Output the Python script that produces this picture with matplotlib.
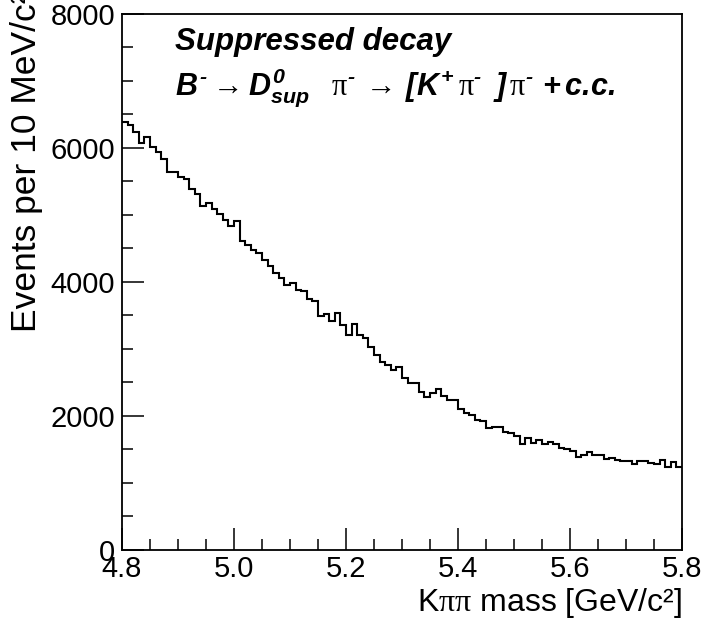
import numpy as np
import matplotlib
matplotlib.use('Agg')
import matplotlib.pyplot as plt
from matplotlib.ticker import MultipleLocator

plt.rcParams['font.family'] = ['Liberation Sans', 'DejaVu Sans']
plt.rcParams['mathtext.fontset'] = 'custom'
plt.rcParams['mathtext.it'] = 'Liberation Sans:bold:italic'
plt.rcParams['mathtext.rm'] = 'Liberation Sans:bold:italic'
plt.rcParams['mathtext.bf'] = 'Liberation Sans:bold:italic'
plt.rcParams['mathtext.sf'] = 'Liberation Serif'

# histogram: K pi pi mass, 10 MeV bins from 4.8 to 5.8 GeV
mass_lo, mass_hi, n_bins = 4.8, 5.8, 100
counts = [
    6387, 6337, 6237, 6063, 6167, 6003, 5930, 5828, 5638, 5638,
    5568, 5528, 5378, 5313, 5128, 5178, 5078, 5003, 4918, 4828,
    4903, 4604, 4554, 4469, 4429, 4329, 4229, 4129, 4055, 3955,
    3980, 3880, 3855, 3740, 3705, 3495, 3520, 3416, 3530, 3356,
    3206, 3371, 3206, 3156, 3031, 2906, 2806, 2756, 2682, 2731,
    2557, 2482, 2482, 2357, 2272, 2342, 2400, 2295, 2237, 2227,
    2100, 2040, 2008, 1937, 1915, 1815, 1825, 1833, 1750, 1743,
    1693, 1583, 1673, 1593, 1643, 1573, 1608, 1573, 1523, 1498,
    1473, 1384, 1408, 1458, 1408, 1408, 1358, 1373, 1343, 1323,
    1323, 1283, 1318, 1318, 1293, 1273, 1333, 1233, 1308, 1233,
]
x_ticks = [4.8, 5.0, 5.2, 5.4, 5.6, 5.8]
x_ticklabels = ['4.8', '5.0', '5.2', '5.4', '5.6', '5.8']
y_ticks = [0, 2000, 4000, 6000, 8000]

edges = np.linspace(mass_lo, mass_hi, n_bins + 1)

fig = plt.figure(figsize=(7.06, 6.22), dpi=100)
ax = fig.add_axes([122 / 706, 1 - 549.7 / 622, 560 / 706, 536 / 622])

ax.stairs(counts, edges, color='black', lw=1.5, baseline=None)

ax.set_xlim(mass_lo, mass_hi)
ax.set_ylim(0, 8000)
ax.set_xticks(x_ticks)
ax.set_xticklabels(x_ticklabels)
ax.set_yticks(y_ticks)
ax.xaxis.set_minor_locator(MultipleLocator(0.05))
ax.yaxis.set_minor_locator(MultipleLocator(500))
ax.tick_params(which='both', direction='in', top=False, right=False,
               labelsize=21, width=1.1, color='black')
ax.tick_params(axis='x', which='major', length=16, pad=4)
ax.tick_params(axis='y', which='major', length=16, pad=5)
ax.tick_params(which='minor', length=8)
for s in ax.spines.values():
    s.set_linewidth(1.3)

# axis titles, ROOT style: pushed to the end of the axis
fig.text(682 / 706, 1 - 603 / 622, r'K$\mathsf{\pi\pi}$ mass [GeV/c²]',
         ha='right', va='center', fontsize=23)
fig.text(27 / 706, 1 + 8 / 622, 'Events per 10 MeV/c²', rotation=90,
         ha='center', va='top', fontsize=25.5)

ax.text(175 / 706, 1 - 42 / 622, 'Suppressed decay', transform=fig.transFigure,
        fontsize=22.5, fontweight='bold', fontstyle='italic', va='center')
ax.text(175 / 706, 1 - 88 / 622,
        r'$B^{\text{-}} \rightarrow D^{0}_{sup}\ \ \,\mathsf{\pi}^{\text{-}}\,'
        r'\rightarrow\,[K^{+}\,\mathsf{\pi}^{\text{-}}\ \,]\,\mathsf{\pi}^{\text{-}}'
        r'\ {+}\,\text{c.c.}$',
        transform=fig.transFigure, fontsize=22, va='center')

fig.savefig('out.png', dpi=100, facecolor='white')
plt.close(fig)
